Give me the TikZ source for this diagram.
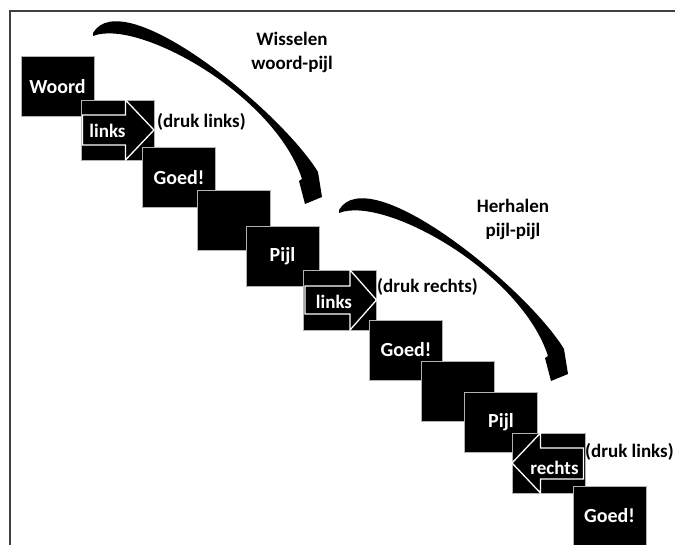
\documentclass[tikz,border=0pt]{standalone}
\usepackage{fontspec}
\setmainfont{Carlito}
\usetikzlibrary{positioning, calc}

\begin{document}
\begin{tikzpicture}[
        x=1pt, y=-1pt,
        card/.style={rectangle, fill=black, draw=white!70!black, line width=0.6pt, minimum width=73pt, minimum height=60pt, inner sep=0pt, text=white, font=\bfseries\fontsize{20}{24}\selectfont},
        pointer/.style={draw=white, fill=black, line width=1.3pt, line join=miter},
        word/.style={inner sep=0pt, font=\bfseries\fontsize{19}{24}\selectfont},
        frame/.style={draw=black!75, line width=2pt},
        swoosh/.pic={
            \fill[black] (93,33) .. controls (123,-18) and (280,110) .. (318,172) -- (322,197) -- (305,204) -- (299,181) -- (302,179) .. controls (275,95) and (138,18) .. (93,36) -- cycle;
        }
    ]
    \useasboundingbox (0,0) rectangle (675,545);
    \draw[frame] (9.5,545) -- (9.5,11.5) -- (675,11.5);

    % eerste reeks
    \node (woord) [card] at (57.5,86.5) {Woord};
    \node (arrowA) [card] at (117.5,130) {};
    \draw[pointer, shift={(arrowA.center)}] (-35,-15) -- (8,-15) -- (8,-30) -- (36.5,0) -- (8,30) -- (8,15) -- (-35,15) -- cycle;
    \node (linksA) [word, text=white] at ($(arrowA.center)+(-10,1)$) {links};
    \node (drukA) [word, anchor=west] at (157,122) {(druk links)};
    \node (goedA) [card] at (179,177.5) {Goed!};
    \node (blankA) [card] at (234,220) {};
    \node (pijlA) [card] at (282.5,256) {Pijl};

    % tweede reeks
    \node (arrowB) [card] at (340,300) {};
    \draw[pointer, shift={(arrowB.center)}] (-35,-14) -- (10,-14) -- (10,-30) -- (36.5,0) -- (10,30) -- (10,14) -- (-35,14) -- cycle;
    \node (linksB) [word, text=white] at ($(arrowB.center)+(-6,2)$) {links};
    \node (drukB) [word, anchor=west] at (377,287) {(druk rechts)};
    \node (goedB) [card] at (406,350) {Goed!};
    \node (blankB) [card] at (457.5,391.5) {};
    \node (pijlB) [card] at (501,422.5) {Pijl};

    % derde reeks
    \node (arrowC) [card] at (548.5,463) {};
    \draw[pointer, shift={(arrowC.center)}] (35,-15) -- (-8,-15) -- (-8,-30) -- (-36.5,0) -- (-8,30) -- (-8,16) -- (35,16) -- cycle;
    \node (rechtsC) [word, text=white] at ($(arrowC.center)+(6,5)$) {rechts};
    \node (drukC) [word, anchor=west] at (585,452) {(druk links)};
    \node (goedC) [card] at (609.5,516) {Goed!};

    % bogen
    \pic at (0,0) {swoosh};
    \pic at (246,177) {swoosh};
    \node (wisselen) [word, align=center] at (292,52) {Wisselen\\woord-pijl};
    \node (herhalen) [word, align=center] at (513,219) {Herhalen\\pijl-pijl};

\end{tikzpicture}
\end{document}
